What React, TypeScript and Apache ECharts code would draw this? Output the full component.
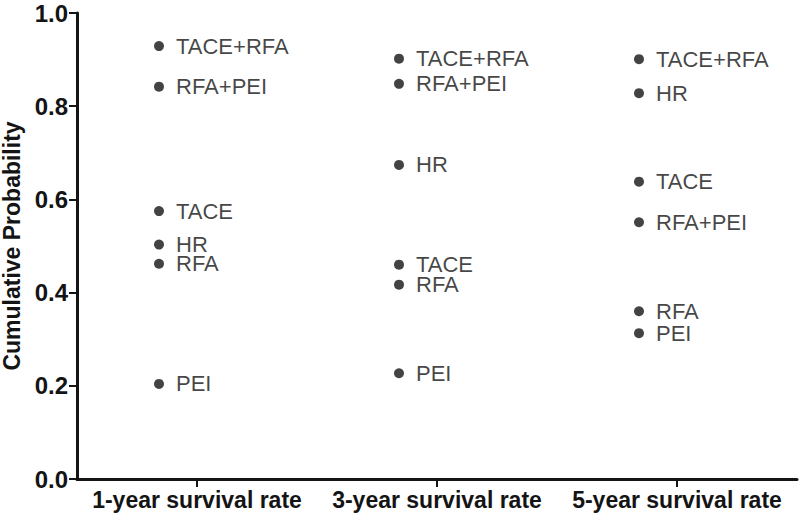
import React, { useEffect, useRef } from "react";
import * as echarts from "echarts";

const categories = ["1-year survival rate", "3-year survival rate", "5-year survival rate"];
const treatments = ["TACE+RFA", "RFA+PEI", "TACE", "HR", "RFA", "PEI"];
const year1 = [0.929, 0.842, 0.575, 0.503, 0.462, 0.204];
const year3 = [0.902, 0.848, 0.46, 0.674, 0.417, 0.227];
const year5 = [0.901, 0.551, 0.638, 0.828, 0.36, 0.313];
const yTicks = [0, 0.2, 0.4, 0.6, 0.8, 1.0];

const FONT = "'Liberation Sans', Arial, sans-serif";
const INK = "#141414";

export default function App() {
  const ref = useRef<HTMLDivElement>(null);
  useEffect(() => {
    if (!ref.current) return;
    const chart = echarts.init(ref.current, null, { renderer: "svg" });
    const columns = [year1, year3, year5];
    const data: any[] = [];
    columns.forEach((col, ci) => {
      col.forEach((v, ti) => {
        data.push({ name: treatments[ti], value: [categories[ci], v] });
      });
    });
    chart.setOption({
      animation: false,
      backgroundColor: "#ffffff",
      grid: {
        left: 77,
        right: 3,
        top: 13,
        bottom: 37,
        containLabel: false,
        outerBoundsMode: "none",
      },
      xAxis: {
        type: "category",
        data: categories,
        boundaryGap: true,
        axisLine: { show: true, lineStyle: { color: INK, width: 3 } },
        axisTick: { show: true, alignWithLabel: true, length: 8, lineStyle: { color: INK, width: 2 } },
        axisLabel: {
          interval: 0,
          color: INK,
          fontFamily: FONT,
          fontWeight: "bold",
          fontSize: 23,
          margin: 11,
          lineHeight: 20,
        },
        splitLine: { show: false },
      },
      yAxis: {
        type: "value",
        min: yTicks[0],
        max: yTicks[yTicks.length - 1],
        interval: 0.2,
        name: "Cumulative Probability",
        nameLocation: "middle",
        nameGap: 49,
        nameTextStyle: { color: INK, fontFamily: FONT, fontWeight: "bold", fontSize: 23, lineHeight: 23 },
        axisLine: { show: true, lineStyle: { color: INK, width: 3 } },
        axisTick: { show: true, length: 8, lineStyle: { color: INK, width: 2 } },
        axisLabel: {
          color: INK,
          fontFamily: FONT,
          fontWeight: "bold",
          fontSize: 24,
          lineHeight: 18,
          margin: 9,
          formatter: (v: number) => v.toFixed(1),
        },
        splitLine: { show: false },
      },
      series: [
        {
          type: "scatter",
          data,
          symbol: "circle",
          symbolSize: 10,
          symbolOffset: [-38, 0],
          itemStyle: { color: "#141414" },
          label: {
            show: true,
            position: "right",
            distance: 12,
            formatter: "{b}",
            color: "#141414",
            fontFamily: FONT,
            fontSize: 22,
            lineHeight: 18,
          },
          emphasis: { disabled: true },
        },
      ],
    });
    return () => chart.dispose();
  }, []);
  return (
    <div
      ref={ref}
      style={{ position: "absolute", left: 0, top: 0, width: 800, height: 516, background: "#fff" }}
    />
  );
}
